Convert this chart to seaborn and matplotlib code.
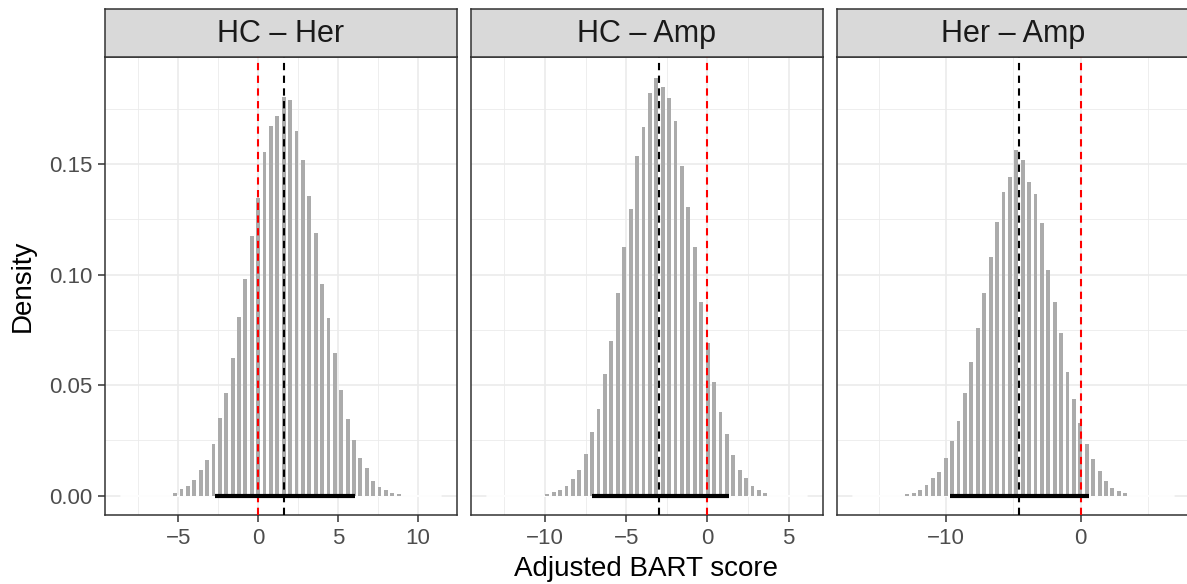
import matplotlib
matplotlib.use("Agg")
import matplotlib.pyplot as plt
import seaborn as sns
import numpy as np
import pandas as pd

# Facet titles
comparisons = ["HC \u2013 Her", "HC \u2013 Amp", "Her \u2013 Amp"]

# Histogram bin heights (density)
hc_her = [0.0012, 0.0030, 0.0044, 0.0071, 0.0114, 0.0162, 0.0232, 0.0353, 0.0465,
          0.0621, 0.0806, 0.0980, 0.1174, 0.1349, 0.1553, 0.1671, 0.1720, 0.1803,
          0.1790, 0.1650, 0.1520, 0.1356, 0.1190, 0.0959, 0.0802, 0.0644, 0.0477,
          0.0345, 0.0250, 0.0171, 0.0126, 0.0068, 0.0038, 0.0026, 0.0010, 0.0008]
hc_amp = [0.0008, 0.0014, 0.0026, 0.0045, 0.0077, 0.0117, 0.0189, 0.0286, 0.0391,
          0.0550, 0.0700, 0.0918, 0.1123, 0.1295, 0.1535, 0.1667, 0.1820, 0.1889,
          0.1850, 0.1798, 0.1694, 0.1492, 0.1306, 0.1126, 0.0877, 0.0690, 0.0512,
          0.0379, 0.0280, 0.0182, 0.0117, 0.0080, 0.0045, 0.0026, 0.0012]
her_amp = [0.0006, 0.0012, 0.0023, 0.0048, 0.0080, 0.0106, 0.0171, 0.0245, 0.0338,
           0.0462, 0.0603, 0.0758, 0.0917, 0.1079, 0.1238, 0.1374, 0.1440, 0.1564,
           0.1518, 0.1417, 0.1364, 0.1235, 0.1020, 0.0877, 0.0735, 0.0561, 0.0439,
           0.0330, 0.0235, 0.0167, 0.0109, 0.0064, 0.0036, 0.0021, 0.0011]
heights = [hc_her, hc_amp, her_amp]

# first bin centre and bin width per panel
first_center = [-5.2, -9.86, -12.9]
bin_width = [0.4, 0.395, 0.477]

# full histogram range (empty bins) per panel
hist_range = [(-8.59, 11.45), (-13.57, 6.12), (-16.97, 6.93)]

# posterior mean and interval
means = [1.6, -2.95, -4.59]
intervals = [(-2.73, 6.06), (-7.09, 1.31), (-9.73, 0.65)]

# axis limits and ticks
xlims = [(-9.59, 12.45), (-14.57, 7.1), (-18.15, 8.04)]
xmajor = [[-5, 0, 5, 10], [-10, -5, 0, 5], [-10, 0]]
xminor = [[-7.5, -2.5, 2.5, 7.5], [-12.5, -7.5, -2.5, 2.5], [-15, -5, 5]]
ylim = (-0.0088, 0.1985)
ymajor = [0.00, 0.05, 0.10, 0.15]
ymajor_labels = ["0.00", "0.05", "0.10", "0.15"]
yminor = [0.025, 0.075, 0.125, 0.175]

sns.set_theme(style="white")
plt.rcParams["font.family"] = ["Liberation Sans", "DejaVu Sans"]

W, H = 1187, 584
fig = plt.figure(figsize=(W / 100, H / 100), dpi=100)

lefts = [105, 470.7, 836.7]
panel_w = 352
panel_top, panel_bottom = 57, 515
strip_h = 48
border = "#333333"

for i in range(3):
    ax = fig.add_axes([lefts[i] / W, 1 - panel_bottom / H, panel_w / W,
                       (panel_bottom - panel_top) / H])
    h = np.array(heights[i])
    centers = first_center[i] + bin_width[i] * np.arange(len(h))
    lo = centers[0] - bin_width[i] / 2
    hi = centers[-1] + bin_width[i] / 2
    df = pd.DataFrame({"score": centers, "density": h})

    # empty bins drawn as white outline at zero
    ax.plot(hist_range[i], [0, 0], color="white", lw=1.3, zorder=2)
    sns.histplot(data=df, x="score", weights="density", binwidth=bin_width[i],
                 binrange=(lo, hi), shrink=0.6, color="#ABABAB", alpha=1,
                 linewidth=0, ax=ax, zorder=3)

    ax.axvline(0, color="red", lw=1.5, ls=(0, (3.5, 2.6)), zorder=4)
    ax.axvline(means[i], color="black", lw=1.5, ls=(0, (3.5, 2.6)), zorder=4)
    ax.plot(intervals[i], [0, 0], color="black", lw=3, solid_capstyle="butt", zorder=5)

    ax.set_xlim(xlims[i])
    ax.set_ylim(ylim)
    ax.set_xticks(xmajor[i])
    ax.set_xticklabels([f"{v:g}".replace("-", "\u2212") for v in xmajor[i]])
    ax.set_xticks(xminor[i], minor=True)
    ax.set_yticks(ymajor)
    ax.set_yticks(yminor, minor=True)
    if i == 0:
        ax.set_yticklabels(ymajor_labels)
    else:
        ax.set_yticklabels([])
    ax.set_xlabel("")
    ax.set_ylabel("")

    ax.set_axisbelow(True)
    ax.grid(which="major", color="#EBEBEB", lw=1.2)
    ax.grid(which="minor", color="#EBEBEB", lw=0.6)
    ax.tick_params(which="minor", length=0)
    ax.tick_params(axis="x", which="major", length=5, width=1.1, color=border,
                   labelsize=16, labelcolor="#4D4D4D", pad=4, bottom=True)
    ax.tick_params(axis="y", which="major", length=5 if i == 0 else 0, width=1.1,
                   color=border, labelsize=16, labelcolor="#4D4D4D", pad=4,
                   left=(i == 0))
    for s in ax.spines.values():
        s.set_color(border)
        s.set_linewidth(1.1)

    # facet strip
    sax = fig.add_axes([lefts[i] / W, 1 - panel_top / H, panel_w / W, strip_h / H])
    sax.set_facecolor("#D9D9D9")
    sax.set_xticks([])
    sax.set_yticks([])
    for s in sax.spines.values():
        s.set_color(border)
        s.set_linewidth(1.1)
    sax.text(0.5, 0.47, comparisons[i], ha="center", va="center", fontsize=22,
             color="#1A1A1A", transform=sax.transAxes)

    # last panel runs off the right edge of the picture
    if i == 2:
        ax.spines["right"].set_visible(False)
        sax.spines["right"].set_visible(False)

fig.text(646 / W, 1 - 569 / H, "Adjusted BART score", ha="center", va="center",
         fontsize=20, color="black")
fig.text(23 / W, 1 - 286 / H, "Density", ha="center", va="center",
         rotation=90, fontsize=20, color="black")

fig.savefig("out.png", dpi=100)
